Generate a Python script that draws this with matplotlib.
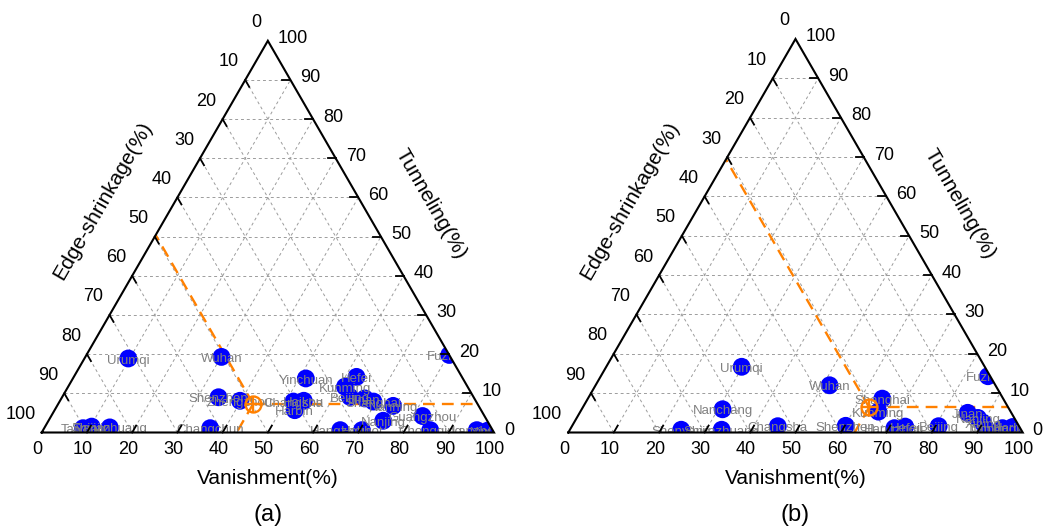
import numpy as np
import matplotlib.pyplot as plt
from matplotlib.path import Path
from matplotlib.patches import PathPatch

plt.rcParams['font.family'] = ['Liberation Sans', 'DejaVu Sans']

# values: Vanishment (%) and Tunneling (%)
# Edge-shrinkage (%) = 100 - Vanishment - Tunneling
cities_a = ["Urumqi", "Wuhan", "Shenzhen", "Zhengzhou", "Changsha", "Haikou", "Harbin",
            "Yinchuan", "Hefei", "Kunming", "Beijing", "Jinan", "Shanghai", "Nanning",
            "Nanjing", "Guangzhou", "Fuzhou", "Changchun", "Taiyuan", "Tianjin",
            "Shijiazhuang", "Hangzhou", "Hohhot", "Chongqing", "Lanzhou", "Xining"]
van_a = [9.7, 30.1, 34.6, 39.8, 51.7, 53.9, 53.1, 51.5, 62.5, 61.2, 63.6, 67.1, 69.4, 74.3,
         74.0, 82.1, 80.2, 36.7, 8.6, 10.3, 14.4, 65.7, 70.5, 85.6, 95.9, 98.4]
tun_a = [18.9, 19.3, 9.0, 8.1, 7.9, 8.1, 5.7, 13.8, 14.2, 11.7, 9.1, 8.7, 7.9, 6.8,
         3.0, 4.2, 19.8, 1.1, 1.1, 1.5, 1.3, 0.6, 0.6, 0.6, 0.6, 0.5]
mean_a = [43.1, 7.3]

cities_b = ["Urumqi", "Nanchang", "Wuhan", "Shanghai", "Kunming", "Fuzhou", "Jinan", "Nanjing",
            "Xining", "Changsha", "Shenzhen", "Shenyang", "Shijiazhuang", "Hangzhou", "Hefei",
            "Beijing", "Tianjin", "Chongqing", "Harbin"]
van_b = [29.8, 31.0, 51.5, 64.8, 65.6, 85.2, 85.4, 88.3, 90.0, 45.3, 60.2, 24.5, 33.4,
         71.2, 73.4, 80.7, 91.3, 95.0, 97.1]
tun_b = [16.7, 5.9, 12.0, 8.6, 5.3, 14.3, 5.0, 3.7, 2.5, 1.6, 1.7, 0.7, 0.7,
         1.1, 1.5, 1.6, 1.1, 1.1, 1.4]
mean_b = [63.0, 6.4]

ticks = list(range(0, 101, 10))

H = np.sqrt(3) / 2
DOT = '#0000ff'
ORANGE = '#ff8000'
GRID = '#9c9c9c'


def tern(v, t):
    v = np.asarray(v, dtype=float)
    t = np.asarray(t, dtype=float)
    return v / 100 + t / 200, t / 100 * H


def draw_panel(ax, cities, van, tun, mean, tag, ax_left_px, left_px, width_px, base_px=432.5):
    s = width_px
    ax.set_xlim((ax_left_px - left_px) / s, (ax_left_px + 522 - left_px) / s)
    ax.set_ylim(-(531 - base_px) / s, base_px / s)
    ax.axis('off')
    px = 1.0 / s

    # grid lines
    for k in ticks[1:-1]:
        for a, b in [(tern(0, k), tern(100 - k, k)),
                     (tern(k, 0), tern(k, 100 - k)),
                     (tern(100 - k, 0), tern(0, 100 - k))]:
            ax.plot([a[0], b[0]], [a[1], b[1]], color=GRID, lw=0.7,
                    ls=(0, (3, 3)), zorder=1)

    # mean point with guide lines to the three axes
    mv, mt = mean
    p = tern(mv, mt)
    for q in [tern(0, mv + mt), tern(100 - mt, mt), tern(mv, 0)]:
        ax.plot([p[0], q[0]], [p[1], q[1]], color=ORANGE, lw=1.7,
                ls=(0, (5, 3)), zorder=2)

    x, y = tern(van, tun)
    ax.scatter(x, y, s=165, color=DOT, edgecolors='none', zorder=3)
    for name, xi, yi in zip(cities, x, y):
        ax.annotate(name, (xi, yi), xytext=(0, -1.5), textcoords='offset points',
                    ha='center', va='center', fontsize=9.5, color='#808080', zorder=4)

    ax.plot(p[0], p[1], 'o', ms=11.5, mfc='none', mec=ORANGE, mew=1.7, zorder=5)
    ax.plot(p[0], p[1], '+', ms=11.5, mec=ORANGE, mew=1.7, zorder=5)

    # white mask outside the triangle (clips dots and labels)
    x0, x1 = ax.get_xlim()
    y0, y1 = ax.get_ylim()
    verts = [(x0, y0), (x1, y0), (x1, y1), (x0, y1), (x0, y0),
             (0, 0), (0.5, H), (1, 0), (0, 0)]
    codes = [Path.MOVETO, Path.LINETO, Path.LINETO, Path.LINETO, Path.CLOSEPOLY,
             Path.MOVETO, Path.LINETO, Path.LINETO, Path.CLOSEPOLY]
    ax.add_patch(PathPatch(Path(verts, codes), facecolor='white', edgecolor='none', zorder=6))

    # triangle frame
    ax.plot([0, 1, 0.5, 0], [0, 0, H, 0], color='black', lw=1.5, zorder=7,
            solid_joinstyle='miter')

    L = 8 * px
    for k in ticks:
        # bottom axis: Vanishment
        bx, by = tern(k, 0)
        if 0 < k < 100:
            ax.plot([bx, bx + 0.5 * L], [by, by + H * L], color='black', lw=1.3, zorder=7)
        ax.text(bx - 4 * px, by - 17 * px, str(k), ha='center', va='center',
                fontsize=13, zorder=8)
        # right axis: Tunneling
        rx, ry = tern(100 - k, k)
        if 0 < k < 100:
            ax.plot([rx, rx - L], [ry, ry], color='black', lw=1.3, zorder=7)
        ax.text(rx + 10 * px, ry + 2 * px, str(k), ha='left', va='center',
                fontsize=13, zorder=8)
        # left axis: Edge-shrinkage
        lx, ly = tern(0, 100 - k)
        if 0 < k < 100:
            ax.plot([lx, lx + 0.5 * L], [ly, ly - H * L], color='black', lw=1.3, zorder=7)
        ax.text(lx - 6 * px, ly + 18 * px, str(k), ha='right', va='center',
                fontsize=13, zorder=8)

    ax.text(0.5, -45.5 * px, 'Vanishment(%)', ha='center', va='center', fontsize=15, zorder=8)
    ax.text(0.5, -83 * px, tag, ha='center', va='center', fontsize=17, zorder=8)
    ax.text(61 * px, 232 * px, 'Edge-shrinkage(%)', rotation=60, ha='center',
            va='center', fontsize=15, zorder=8, rotation_mode='anchor')
    ax.text(1 - 63 * px, 229 * px, 'Tunneling(%)', rotation=-60, ha='center',
            va='center', fontsize=15, zorder=8, rotation_mode='anchor')


fig = plt.figure(figsize=(10.44, 5.31), dpi=100)
ax_a = fig.add_axes([0, 0, 0.5, 1])
ax_b = fig.add_axes([0.5, 0, 0.5, 1])

draw_panel(ax_a, cities_a, van_a, tun_a, mean_a, '(a)', 0, 41.7, 452.3)
draw_panel(ax_b, cities_b, van_b, tun_b, mean_b, '(b)', 522, 568.3, 454.4)

fig.savefig('out.png', dpi=100, facecolor='white')
